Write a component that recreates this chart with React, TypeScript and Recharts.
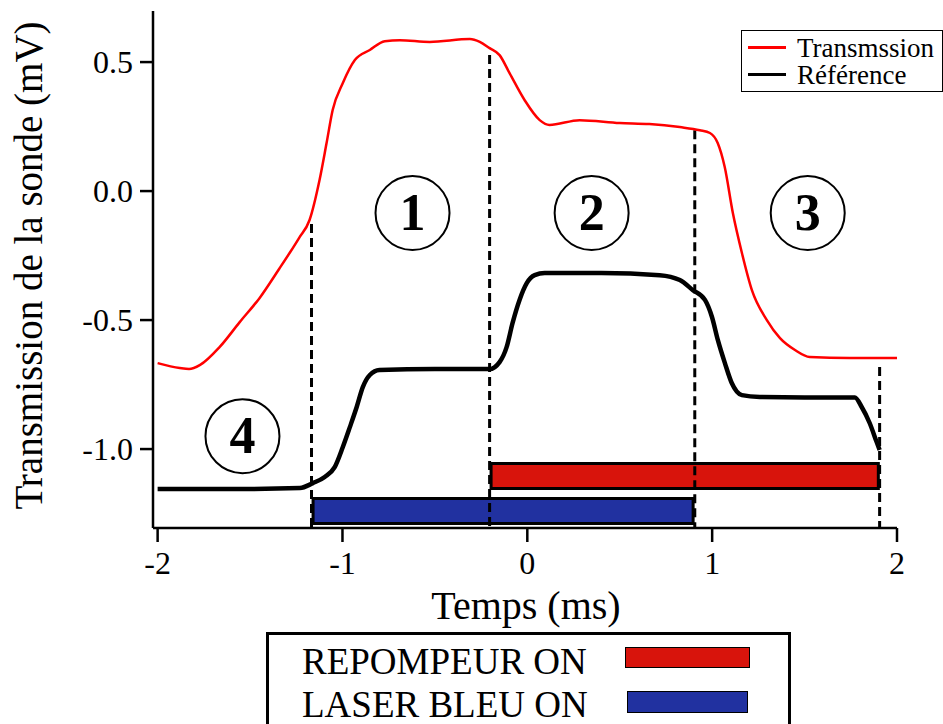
import React from "react";
import {
  ComposedChart,
  Line,
  XAxis,
  YAxis,
  ReferenceArea,
  ReferenceLine,
  ReferenceDot,
  Legend,
} from "recharts";

const SERIF = "Liberation Serif";

// Transmission (red)
const transT = [-2.0, -1.88, -1.83, -1.77, -1.665, -1.556, -1.449, -1.341, -1.286, -1.235, -1.178, -1.124, -1.086, -1.053, -0.998, -0.933, -0.852, -0.771, -0.69, -0.528, -0.311, -0.257, -0.204, -0.15, -0.096, -0.015, 0.067, 0.12, 0.283, 0.5, 0.66, 0.825, 0.933, 0.988, 1.03, 1.068, 1.112, 1.161, 1.215, 1.296, 1.367, 1.448, 1.528, 1.745, 2.0];
const transV = [-0.667, -0.686, -0.69, -0.674, -0.605, -0.508, -0.415, -0.3, -0.24, -0.182, -0.112, 0.043, 0.186, 0.314, 0.419, 0.508, 0.547, 0.581, 0.585, 0.578, 0.589, 0.578, 0.554, 0.527, 0.457, 0.353, 0.275, 0.256, 0.275, 0.264, 0.26, 0.248, 0.236, 0.225, 0.186, 0.093, -0.085, -0.24, -0.384, -0.5, -0.57, -0.616, -0.643, -0.647, -0.647];

// Référence (black)
const refT = [-2.0, -1.6, -1.23, -1.16, -1.096, -1.042, -0.998, -0.96, -0.923, -0.89, -0.852, -0.8, -0.5, -0.204, -0.15, -0.112, -0.08, -0.042, -0.003, 0.04, 0.094, 0.4, 0.716, 0.825, 0.896, 0.961, 0.999, 1.031, 1.069, 1.106, 1.161, 1.258, 1.5, 1.772, 1.809, 1.852, 1.89, 1.906];
const refV = [-1.155, -1.155, -1.151, -1.132, -1.108, -1.07, -0.992, -0.915, -0.837, -0.76, -0.713, -0.694, -0.69, -0.69, -0.663, -0.605, -0.512, -0.422, -0.357, -0.326, -0.318, -0.318, -0.326, -0.345, -0.384, -0.422, -0.488, -0.578, -0.667, -0.744, -0.791, -0.798, -0.8, -0.8, -0.837, -0.899, -0.973, -1.004];

const xTicks = [-2, -1, 0, 1, 2];
const yTicks = [-1, -0.5, 0, 0.5];

// dashed markers: time and top of the segment
const dashX = [-1.1675, -0.204, 0.906, 1.906];
const dashTop = [-0.128, 0.527, 0.236, -0.682];

// phase numbers
const phaseLabels = ["1", "2", "3", "4"];
const phaseX = [-0.621, 0.348, 1.517, -1.541];
const phaseY = [-0.085, -0.085, -0.085, -0.95];

// on/off bars
const repompeurX = [-0.196, 1.899];
const repompeurY = [-1.153, -1.056];
const laserX = [-1.159, 0.897];
const laserY = [-1.289, -1.192];

const X_DOMAIN: [number, number] = [-2.025, 2.0];
const Y_DOMAIN: [number, number] = [-1.306, 0.698];

const transData = transT.map((t, i) => ({ t, v: transV[i] }));
const refData = refT.map((t, i) => ({ t, v: refV[i] }));

const RED = "#d8140c";
const BLUE = "#2131a0";

// eslint-disable-next-line @typescript-eslint/no-explicit-any
const XTick = ({ x, y, payload }: any) => (
  <text x={x} y={y + 22} textAnchor="middle" fontSize={32} fontFamily={SERIF} fill="#000">
    {payload.value}
  </text>
);

// eslint-disable-next-line @typescript-eslint/no-explicit-any
const YTick = ({ x, y, payload }: any) => (
  <text x={x} y={y + 11} textAnchor="end" fontSize={32} fontFamily={SERIF} fill="#000">
    {Number(payload.value).toFixed(1)}
  </text>
);

function phaseShape(label: string) {
  // eslint-disable-next-line @typescript-eslint/no-explicit-any
  return (props: any) => (
    <g>
      <circle cx={props.cx} cy={props.cy} r={37} fill="#fff" stroke="#000" strokeWidth={2} />
      <text
        x={props.cx}
        y={props.cy + 17}
        textAnchor="middle"
        fontSize={52}
        fontWeight="bold"
        fontFamily={SERIF}
        fill="#000"
      >
        {label}
      </text>
    </g>
  );
}

// eslint-disable-next-line @typescript-eslint/no-explicit-any
function SeriesLegend({ payload }: any) {
  return (
    <div
      style={{
        width: 202,
        height: 62,
        border: "1.5px solid #000",
        boxSizing: "border-box",
        background: "#fff",
        fontFamily: SERIF,
        fontSize: 27,
        paddingTop: 3,
      }}
    >
      {(payload || []).map((p: any) => (
        <div key={p.value} style={{ display: "flex", alignItems: "center", height: 27 }}>
          <span style={{ width: 38, height: 2.5, background: p.color, marginLeft: 6, marginRight: 11 }} />
          <span style={{ lineHeight: "26px" }}>{p.value}</span>
        </div>
      ))}
    </div>
  );
}

export default function App() {
  return (
    <div
      style={{
        position: "absolute",
        left: 0,
        top: 0,
        width: 943,
        height: 724,
        overflow: "hidden",
        background: "#fff",
      }}
    >
      <ComposedChart
        width={943}
        height={724}
        margin={{ top: 11, right: 46, bottom: 166, left: 0 }}
      >
        <XAxis
          type="number"
          dataKey="t"
          domain={X_DOMAIN}
          ticks={xTicks}
          allowDataOverflow
          height={30}
          tickSize={14}
          tickMargin={10}
          axisLine={{ stroke: "#000", strokeWidth: 2.5 }}
          tickLine={{ stroke: "#000", strokeWidth: 2.5 }}
          tick={XTick}
          // eslint-disable-next-line @typescript-eslint/no-explicit-any
          label={(props: any) => {
            const vb = props.viewBox;
            return (
              <text
                x={vb.x + vb.width / 2 + 1}
                y={vb.y + 91}
                textAnchor="middle"
                fontSize={40}
                fontFamily={SERIF}
                fill="#000"
              >
                Temps (ms)
              </text>
            );
          }}
        />
        <YAxis
          type="number"
          domain={Y_DOMAIN}
          ticks={yTicks}
          allowDataOverflow
          width={153}
          tickSize={13}
          tickMargin={7}
          axisLine={{ stroke: "#000", strokeWidth: 2.5 }}
          tickLine={{ stroke: "#000", strokeWidth: 2.5 }}
          tick={YTick}
          // eslint-disable-next-line @typescript-eslint/no-explicit-any
          label={(props: any) => {
            const vb = props.viewBox;
            const cx = 42;
            const cy = vb.y + vb.height / 2 - 4;
            return (
              <text
                x={cx}
                y={cy}
                transform={`rotate(-90 ${cx} ${cy})`}
                textAnchor="middle"
                fontSize={39}
                fontFamily={SERIF}
                fill="#000"
              >
                Transmission de la sonde (mV)
              </text>
            );
          }}
        />

        <ReferenceArea
          x1={repompeurX[0]}
          x2={repompeurX[1]}
          y1={repompeurY[0]}
          y2={repompeurY[1]}
          fill={RED}
          fillOpacity={1}
          stroke="#000"
          strokeWidth={3}
        />
        <ReferenceArea
          x1={laserX[0]}
          x2={laserX[1]}
          y1={laserY[0]}
          y2={laserY[1]}
          fill={BLUE}
          fillOpacity={1}
          stroke="#000"
          strokeWidth={3}
        />

        {dashX.map((x, i) => (
          <ReferenceLine
            key={`dash-${i}`}
            segment={[
              { x, y: dashTop[i] },
              { x, y: Y_DOMAIN[0] },
            ]}
            stroke="#000"
            strokeWidth={3}
            strokeDasharray="9 5"
          />
        ))}

        <Line
          data={refData}
          dataKey="v"
          name="Référence"
          type="monotone"
          stroke="#000"
          strokeWidth={4.5}
          dot={false}
          activeDot={false}
          isAnimationActive={false}
        />
        <Line
          data={transData}
          dataKey="v"
          name="Transmssion"
          type="monotone"
          stroke="#ff0000"
          strokeWidth={2.5}
          dot={false}
          activeDot={false}
          isAnimationActive={false}
        />

        {phaseLabels.map((label, i) => (
          <ReferenceDot
            key={`phase-${label}`}
            x={phaseX[i]}
            y={phaseY[i]}
            r={37}
            shape={phaseShape(label)}
          />
        ))}

        <Legend
          layout="vertical"
          align="center"
          verticalAlign="middle"
          itemSorter={(item: any) => (item.value === "Transmssion" ? 0 : 1)}
          content={SeriesLegend}
          wrapperStyle={{ position: "absolute", left: 741, top: 30, width: 202, height: 62 }}
        />
      </ComposedChart>

      {/* on/off key below the chart */}
      <div
        style={{
          position: "absolute",
          left: 266,
          top: 632,
          width: 525,
          height: 110,
          border: "3px solid #000",
          boxSizing: "border-box",
          background: "#fff",
          fontFamily: SERIF,
          fontSize: 37,
          color: "#000",
        }}
      >
        <div style={{ position: "absolute", left: 33, top: 7, lineHeight: "40px" }}>REPOMPEUR ON</div>
        <div style={{ position: "absolute", left: 33, top: 50, lineHeight: "40px" }}>LASER BLEU ON</div>
        <div
          style={{
            position: "absolute",
            left: 356,
            top: 12,
            width: 125,
            height: 21,
            background: RED,
            border: "1.5px solid #000",
            boxSizing: "border-box",
          }}
        />
        <div
          style={{
            position: "absolute",
            left: 358,
            top: 56,
            width: 121,
            height: 22,
            background: BLUE,
            border: "1.5px solid #000",
            boxSizing: "border-box",
          }}
        />
      </div>
    </div>
  );
}
